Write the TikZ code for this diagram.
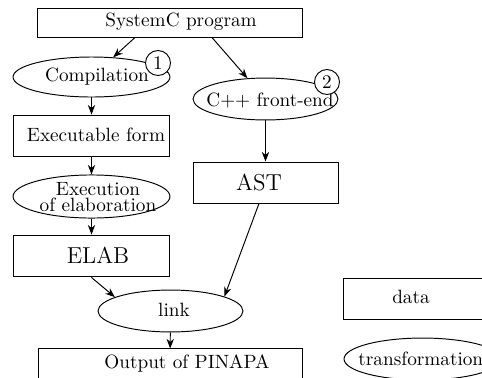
\documentclass[tikz,border=0pt]{standalone}
\usetikzlibrary{arrows.meta,calc,shapes.geometric}
\begin{document}
\begin{tikzpicture}[x=0.52pt,y=-0.52pt,line width=0.5pt,
 box/.style={draw,rectangle,inner sep=0pt},
 ell/.style={draw,ellipse,inner sep=0pt},
 lbl/.style={inner sep=0pt},
 arr/.style={-{Stealth[length=5pt,width=3.8pt]}},
 num/.style={draw,circle,fill=white,inner sep=0pt,minimum size=13pt}]
\clip (0,0) rectangle (482,378);
% left column
\node[box,minimum width=137.8pt,minimum height=15.1pt] (sc) at (169.5,22.5) {};
\node[lbl] (tsc) at (181,22) {SystemC program};
\node[ell,minimum width=81.6pt,minimum height=20.8pt] (comp) at (91.5,77) {};
\node[lbl] (tcomp) at (97,77) {Compilation};
\node[box,minimum width=81.6pt,minimum height=21.8pt] (exe) at (91.5,136) {};
\node[lbl] (texe) at (96,135) {Executable form};
\node[ell,minimum width=81.6pt,minimum height=22.4pt] (exec) at (91.5,196.5) {};
\node[lbl,align=center,font=\fontsize{10pt}{7.9pt}\selectfont] (texec) at (98,197) {Execution\\of elaboration};
\node[box,minimum width=81.6pt,minimum height=21.8pt] (elab) at (91.5,256) {};
\node[lbl,font=\large] (telab) at (98,255) {ELAB};
% right column
\node[ell,minimum width=75.4pt,minimum height=21.8pt] (cpp) at (265.5,99) {};
\node[lbl] (tcpp) at (270,101) {C++ front-end};
\node[box,minimum width=74.9pt,minimum height=21.3pt] (ast) at (266,182.5) {};
\node[lbl,font=\large] (tast) at (259,182) {AST};
% bottom
\node[ell,minimum width=75.4pt,minimum height=21.8pt] (link) at (170.5,311) {};
\node[lbl] (tlink) at (174,310) {link};
\node[box,minimum width=137.3pt,minimum height=17.2pt] (out) at (170,365.5) {};
\node[lbl] (tout) at (187,363) {Output of PINAPA};
% legend
\node[box,minimum width=81.6pt,minimum height=21.8pt] (data) at (421.5,299) {};
\node[lbl] (tdata) at (411,297) {data};
\node[ell,minimum width=81.6pt,minimum height=21.8pt] (trans) at (422.5,359) {};
\node[lbl,anchor=west] (ttrans) at (358,359) {transformation};
% numbers
\node[num] (n1) at (158,63) {1};
\node[num] (n2) at (327,82) {2};
% connectors
\draw[arr] ($(sc.south)+(-34.5,0)$) -- (comp);
\draw[arr] ($(sc.south)+(42.5,0)$) -- (cpp);
\draw[arr] (cpp.south) -- (cpp.south |- ast.north);
\draw[arr] (comp) -- (exe);
\draw[arr] (exe) -- (exec);
\draw[arr] (exec) -- (elab);
\draw[arr] (elab.south) -- (link.166);
\draw[arr] ($(ast.south)+(-7,0)$) -- (link.15);
\draw[arr] (link) -- (out);
\end{tikzpicture}
\end{document}
